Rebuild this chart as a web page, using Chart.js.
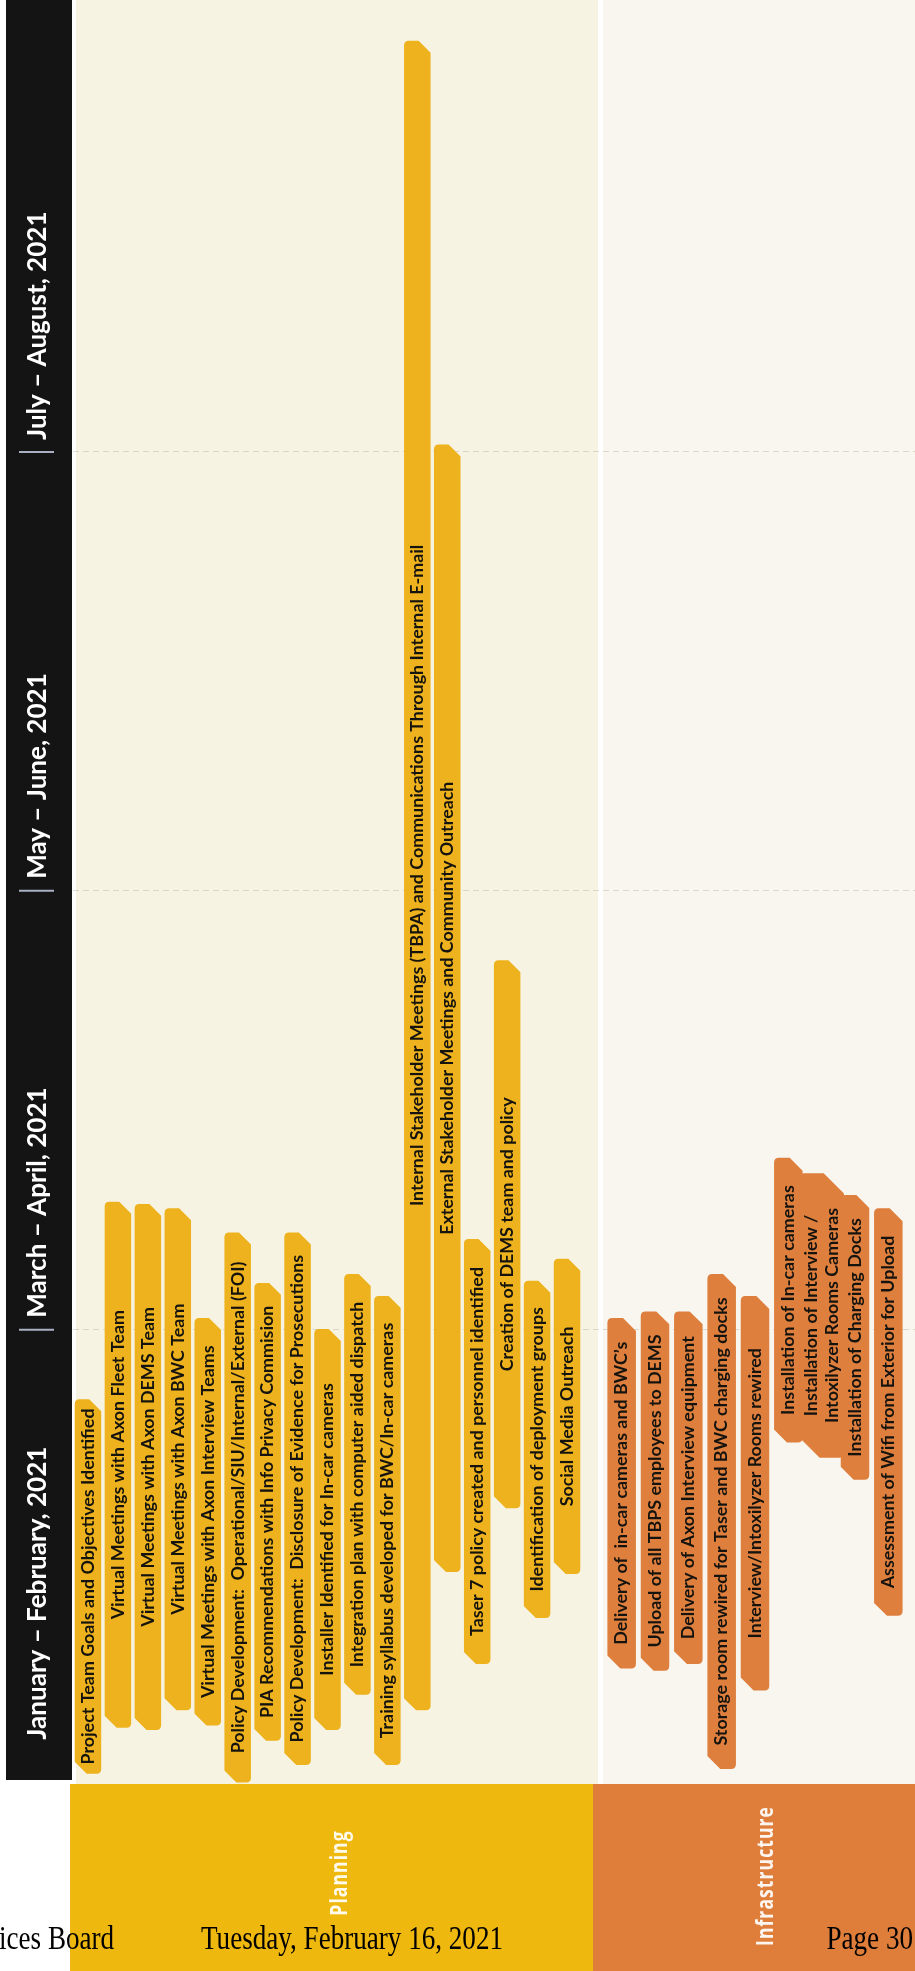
<!DOCTYPE html>
<html>
<head>
<meta charset="utf-8">
<script src="https://cdn.jsdelivr.net/npm/chart.js@4.4.1/dist/chart.umd.min.js"></script>
<style>
  html, body { margin: 0; padding: 0; background: #ffffff; }
  canvas { display: block; }
</style>
</head>
<body>
<canvas id="gantt" width="915" height="1971"></canvas>
<script>
// ---------- DATA (time in months after 1 January 2021) ----------
const periodLabels = ["January – February, 2021", "March – April, 2021", "May – June, 2021", "July – August, 2021"];
const periodStarts = [0, 2, 4, 6];
const sectionNames = ["Planning", "Infrastructure"];

const planningTasks = [
  "Project Team Goals and Objectives Identified",
  "Virtual Meetings with Axon Fleet Team",
  "Virtual Meetings with Axon DEMS Team",
  "Virtual Meetings with Axon BWC Team",
  "Virtual Meetings with Axon Interview Teams",
  "Policy Development:  Operational/SIU/Internal/External (FOI)",
  "PIA Recommendations with Info Privacy Commision",
  "Policy Development:  Disclosure of Evidence for Prosecutions",
  "Installer Identified for In-car cameras",
  "Integration plan with computer aided dispatch",
  "Training syllabus developed for BWC/In-car cameras",
  "Internal Stakeholder Meetings (TBPA) and Communications Through Internal E-mail",
  "External Stakeholder Meetings and Community Outreach",
  "Taser 7 policy created and personnel identified",
  "Creation of DEMS team and policy",
  "Identification of deployment groups",
  "Social Media Outreach"
];
const planningStart = [-0.02, 0.19, 0.18, 0.27, 0.20, -0.06, 0.13, 0.02, 0.18, 0.34, 0.02, 0.27, 0.90, 0.48, 1.19, 0.69, 0.89];
const planningEnd   = [ 1.68, 2.58, 2.57, 2.55, 2.05,  2.44, 2.21, 2.44, 2.00, 2.25, 2.15, 7.87, 6.03, 2.41, 3.68, 2.22, 2.32];

const infraTasks = [
  "Delivery of  in-car cameras and BWC’s",
  "Upload of all TBPS employees to DEMS",
  "Delivery of Axon Interview equipment",
  "Storage room rewired for Taser and BWC charging docks",
  "Interview/Intoxilyzer Rooms rewired",
  "Installation of In-car cameras",
  ["Installation of Interview /", "Intoxilyzer Rooms Cameras"],
  "Installation of Charging Docks",
  "Assessment of Wifi from Exterior for Upload"
];
const infraStart = [0.46, 0.45, 0.48, 0.00, 0.36, 1.49, 1.42, 1.32, 0.70];
const infraEnd   = [2.05, 2.08, 2.08, 2.25, 2.15, 2.78, 2.71, 2.61, 2.55];

const footerLeft = "ices Board";
const footerMid = "Tuesday, February 16, 2021";
const footerRight = "Page 30";

// ---------- STYLE ----------
const STYLE = {
  cream: "#F7F3E3",
  cream2: "#F8F6EE",
  black: "#141414",
  barColors: ["#EDB21D", "#DE7F3E"],
  stripColors: ["#EFB80F", "#DF7E3B"],
  barText: "#15130e",
  grid: "rgba(175,165,145,0.38)"
};

function setRange(scale, l, r) {
  scale.left = l; scale.right = r; scale.width = r - l;
  scale.configure();
}

const sectionRangePlugin = {
  id: "sectionRanges",
  afterLayout(chart) {
    setRange(chart.scales.xp, 73, 582);
    setRange(chart.scales.xi, 605, 905);
  }
};

const backgroundPlugin = {
  id: "pageBackground",
  beforeDraw(chart) {
    const c = chart.ctx;
    const bottom = chart.chartArea.bottom;
    c.save();
    c.fillStyle = "#ffffff";
    c.fillRect(0, 0, chart.width, chart.height);
    c.fillStyle = STYLE.cream;
    c.fillRect(76, 0, chart.width - 76, bottom);
    c.fillStyle = STYLE.cream2;
    c.fillRect(603, 0, chart.width - 603, bottom);
    c.fillStyle = "#ffffff";
    c.fillRect(598, 0, 5, bottom);
    c.fillStyle = STYLE.black;
    c.fillRect(6, 0, 66, bottom - 4);
    c.fillStyle = STYLE.stripColors[0];
    c.fillRect(70, bottom, 523, chart.height - bottom);
    c.fillStyle = STYLE.stripColors[1];
    c.fillRect(593, bottom, chart.width - 593, chart.height - bottom);
    c.restore();
  }
};

function barPath(c, x, w, top, bot) {
  const L = x - w / 2, R = x + w / 2;
  const ch = Math.min(w * 0.46, (bot - top) / 3);
  const r = 4;
  c.beginPath();
  c.moveTo(L, top + r);
  c.quadraticCurveTo(L, top, L + r, top);
  c.lineTo(R - ch, top);
  c.lineTo(R, top + ch);
  c.lineTo(R, bot - r);
  c.quadraticCurveTo(R, bot, R - r, bot);
  c.lineTo(L + ch, bot);
  c.lineTo(L, bot - ch);
  c.closePath();
}

const ganttPlugin = {
  id: "ganttBars",
  afterDatasetsDraw(chart) {
    const c = chart.ctx;
    c.save();
    c.font = "bold 16.5px Lato";
    const fit = 356 / c.measureText(planningTasks[0]).width;
    const items = [];
    chart.data.datasets.forEach((ds, di) => {
      const meta = chart.getDatasetMeta(di);
      const labels = chart.scales[ds.xAxisID].getLabels();
      meta.data.forEach((el, i) => {
        const lab = labels[i];
        const lines = Array.isArray(lab) ? lab : [lab];
        const w = lines.length > 1 ? 43 : el.width;
        items.push({
          x: el.x, w, lines,
          top: Math.min(el.y, el.base),
          bot: Math.max(el.y, el.base),
          color: STYLE.barColors[di]
        });
      });
    });
    items.forEach(it => {
      barPath(c, it.x, it.w, it.top, it.bot);
      c.fillStyle = it.color;
      c.strokeStyle = it.color;
      c.lineJoin = "round";
      c.lineWidth = 1.5;
      c.fill();
      c.stroke();
    });
    c.fillStyle = STYLE.barText;
    c.textAlign = "center";
    c.textBaseline = "middle";
    items.forEach(it => {
      const yc = (it.top + it.bot) / 2;
      const n = it.lines.length;
      it.lines.forEach((t, k) => {
        c.save();
        c.translate(it.x + (k - (n - 1) / 2) * 21 + 0.5, yc);
        c.rotate(-Math.PI / 2);
        c.scale(fit, 1);
        c.fillText(t, 0, 0);
        c.restore();
      });
    });
    c.restore();
  },
  afterDraw(chart) {
    const c = chart.ctx;
    const y = chart.scales.y;
    c.save();
    // period header in the black column
    c.font = "bold 26px Lato";
    const hfit = 293 / c.measureText(periodLabels[0]).width;
    c.textAlign = "left";
    c.textBaseline = "middle";
    periodLabels.forEach((t, k) => {
      const py = y.getPixelForValue(periodStarts[k]);
      if (k > 0) {
        c.strokeStyle = "#aab0c4";
        c.lineWidth = 2;
        c.beginPath();
        c.moveTo(19, py); c.lineTo(54, py);
        c.stroke();
      }
      const start = k === 0 ? py - 29 : py - 12;
      c.save();
      c.fillStyle = "#ffffff";
      c.translate(38, start);
      c.rotate(-Math.PI / 2);
      c.scale(hfit, 1);
      c.fillText(t, 0, 0);
      c.restore();
    });
    // section names in the bottom strip
    c.font = "bold 24px 'Open Sans'";
    if ("letterSpacing" in c) c.letterSpacing = "1.5px";
    const sfit = 140 / c.measureText(sectionNames[1]).width;
    c.textAlign = "center";
    const secPos = [[340, 1873], [766, 1876]];
    sectionNames.forEach((t, k) => {
      c.save();
      c.fillStyle = "rgba(255,255,255,0.92)";
      c.translate(secPos[k][0], secPos[k][1]);
      c.rotate(-Math.PI / 2);
      c.scale(sfit, 1);
      c.fillText(t, 0, 0);
      c.restore();
    });
    if ("letterSpacing" in c) c.letterSpacing = "0px";
    // footer
    c.font = "33px 'Liberation Serif'";
    const ffit = 302 / c.measureText(footerMid).width;
    c.fillStyle = "#000000";
    c.textBaseline = "alphabetic";
    c.textAlign = "left";
    const base = 1949;
    c.save(); c.translate(-1, base); c.scale(ffit, 1); c.fillText(footerLeft, 0, 0); c.restore();
    c.save(); c.translate(201, base); c.scale(ffit, 1); c.fillText(footerMid, 0, 0); c.restore();
    c.save(); c.translate(913, base); c.scale(ffit, 1); c.textAlign = "right"; c.fillText(footerRight, 0, 0); c.restore();
    c.restore();
  }
};

const ctx = document.getElementById("gantt").getContext("2d");
new Chart(ctx, {
  type: "bar",
  data: {
    datasets: [
      {
        label: sectionNames[0],
        xAxisID: "xp",
        data: planningStart.map((s, i) => [s, planningEnd[i]]),
        backgroundColor: "rgba(0,0,0,0)",
        barThickness: 25,
        grouped: false
      },
      {
        label: sectionNames[1],
        xAxisID: "xi",
        data: infraStart.map((s, i) => [s, infraEnd[i]]),
        backgroundColor: "rgba(0,0,0,0)",
        barThickness: 27,
        grouped: false
      }
    ]
  },
  options: {
    responsive: false,
    animation: false,
    devicePixelRatio: 1,
    layout: { padding: { left: 73, top: 13, right: 0, bottom: 187 } },
    plugins: { legend: { display: false }, tooltip: { enabled: false } },
    scales: {
      xp: { type: "category", labels: planningTasks, display: false, offset: true },
      xi: { type: "category", labels: infraTasks, display: false, offset: true },
      y: {
        type: "linear", min: -0.07, max: 8,
        ticks: { display: false, stepSize: 2 },
        grid: {
          drawTicks: false,
          lineWidth: 1,
          color: (g) => (g.tick && [2, 4, 6].some(v => Math.abs(g.tick.value - v) < 1e-6)) ? STYLE.grid : "rgba(0,0,0,0)"
        },
        border: { display: false, dash: [6, 4] }
      }
    }
  },
  plugins: [sectionRangePlugin, backgroundPlugin, ganttPlugin]
});
</script>
</body>
</html>
